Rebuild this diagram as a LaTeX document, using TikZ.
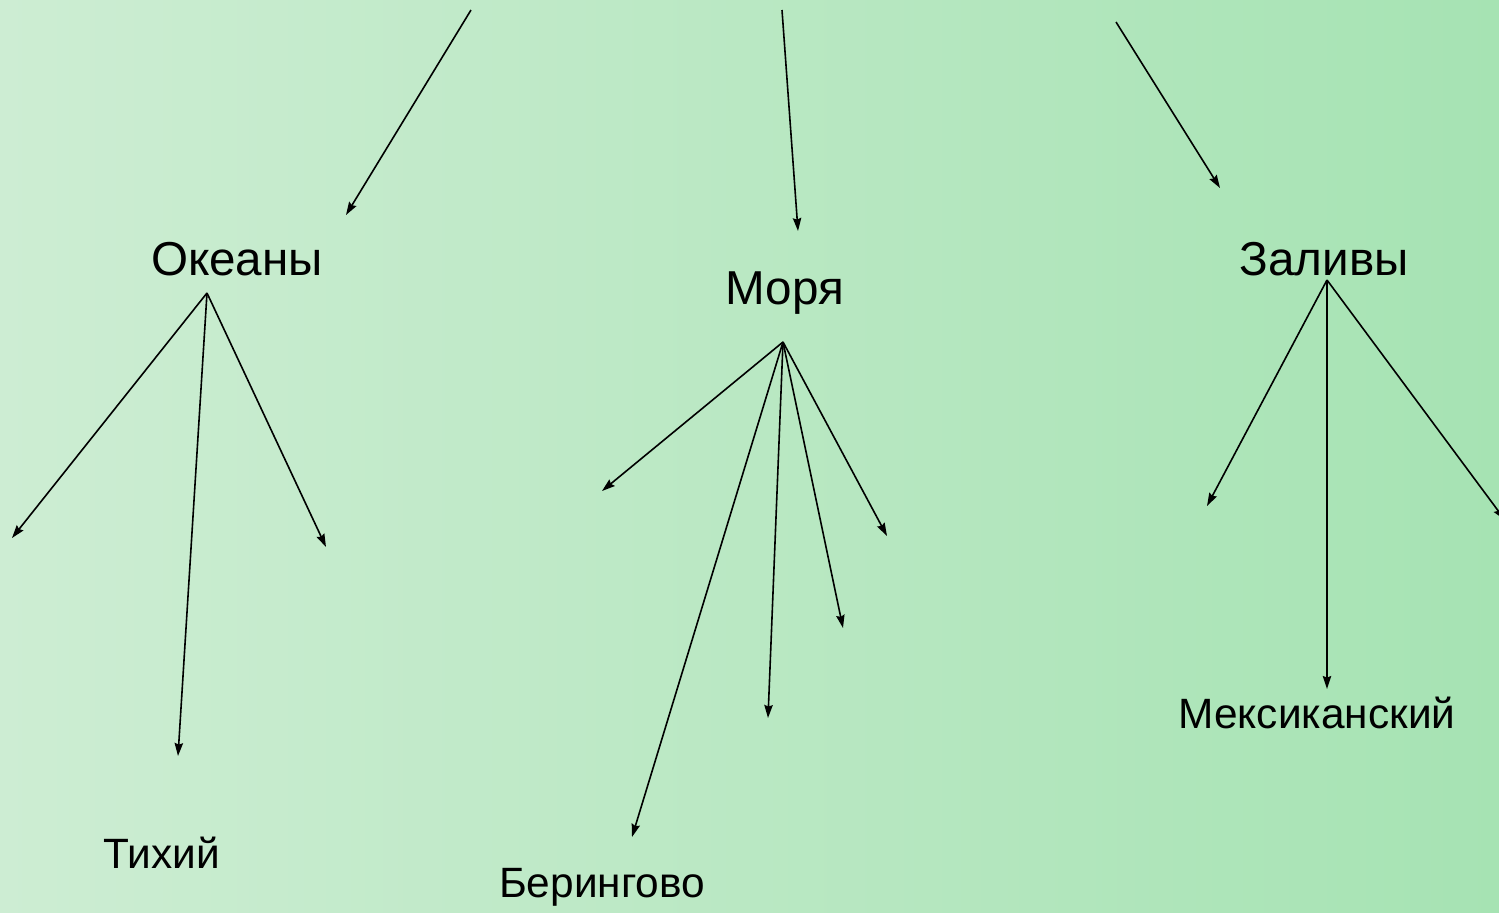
\documentclass[tikz,border=0pt]{standalone}
\usepackage{fontspec}
\setmainfont{Liberation Sans}
\usetikzlibrary{arrows.meta}
\definecolor{bgleft}{HTML}{D8F0DC}
\definecolor{bgright}{HTML}{9BE0AA}
\tikzset{
  arr/.style={line width=0.8pt, -{Stealth[length=6.5pt,width=4.2pt,inset=0.8pt]}},
  biglabel/.style={anchor=base, inner sep=0pt, font=\fontsize{23.8}{28}\selectfont},
  smalllabel/.style={anchor=base, inner sep=0pt, font=\fontsize{21.2}{25}\selectfont},
}
\begin{document}
\begin{tikzpicture}[x=0.5pt,y=-0.5pt]
\useasboundingbox (0,0) rectangle (1499,912);
\clip (0,0) rectangle (1499,912);
\shade[left color=bgleft, right color=bgright, rotate around={33:(749.5,456)}]
  (-131,-344) rectangle (1630,1256);

% labels
\node[biglabel] (okeany) at (237,275) {Океаны};
\node[biglabel] (morya) at (785,304) {Моря};
\node[biglabel] (zalivy) at (1324,275) {Заливы};
\node[smalllabel] (tikhiy) at (162,868) {Тихий};
\node[smalllabel] (beringovo) at (602,897) {Берингово};
\node[smalllabel] (meksik) at (1317,728) {Мексиканский};

% top arrows
\coordinate (t1s) at (471,10);  \coordinate (t1e) at (346,215);
\coordinate (t2s) at (782,10);  \coordinate (t2e) at (798,231);
\coordinate (t3s) at (1116,22); \coordinate (t3e) at (1220,188);
\draw[arr] (t1s) -- (t1e);
\draw[arr] (t2s) -- (t2e);
\draw[arr] (t3s) -- (t3e);

% origins
\coordinate (oo) at (207,293);
\coordinate (mo) at (783,342);
\coordinate (zo) at (1327,280);

% Океаны branches
\coordinate (o1) at (12,538);
\coordinate (o2) at (178,756);
\coordinate (o3) at (326,547);
\draw[arr] (oo) -- (o1);
\draw[arr] (oo) -- (o2);
\draw[arr] (oo) -- (o3);

% Моря branches
\coordinate (m1) at (602,491);
\coordinate (m2) at (632,837);
\coordinate (m3) at (768,718);
\coordinate (m4) at (843,628);
\coordinate (m5) at (887,536);
\draw[arr] (mo) -- (m1);
\draw[arr] (mo) -- (m2);
\draw[arr] (mo) -- (m3);
\draw[arr] (mo) -- (m4);
\draw[arr] (mo) -- (m5);

% Заливы branches
\coordinate (z1) at (1207,506);
\coordinate (z2) at (1327,689);
\coordinate (z3) at (1505,520);
\draw[arr] (zo) -- (z1);
\draw[arr] (zo) -- (z2);
\draw[arr] (zo) -- (z3);
\end{tikzpicture}
\end{document}
